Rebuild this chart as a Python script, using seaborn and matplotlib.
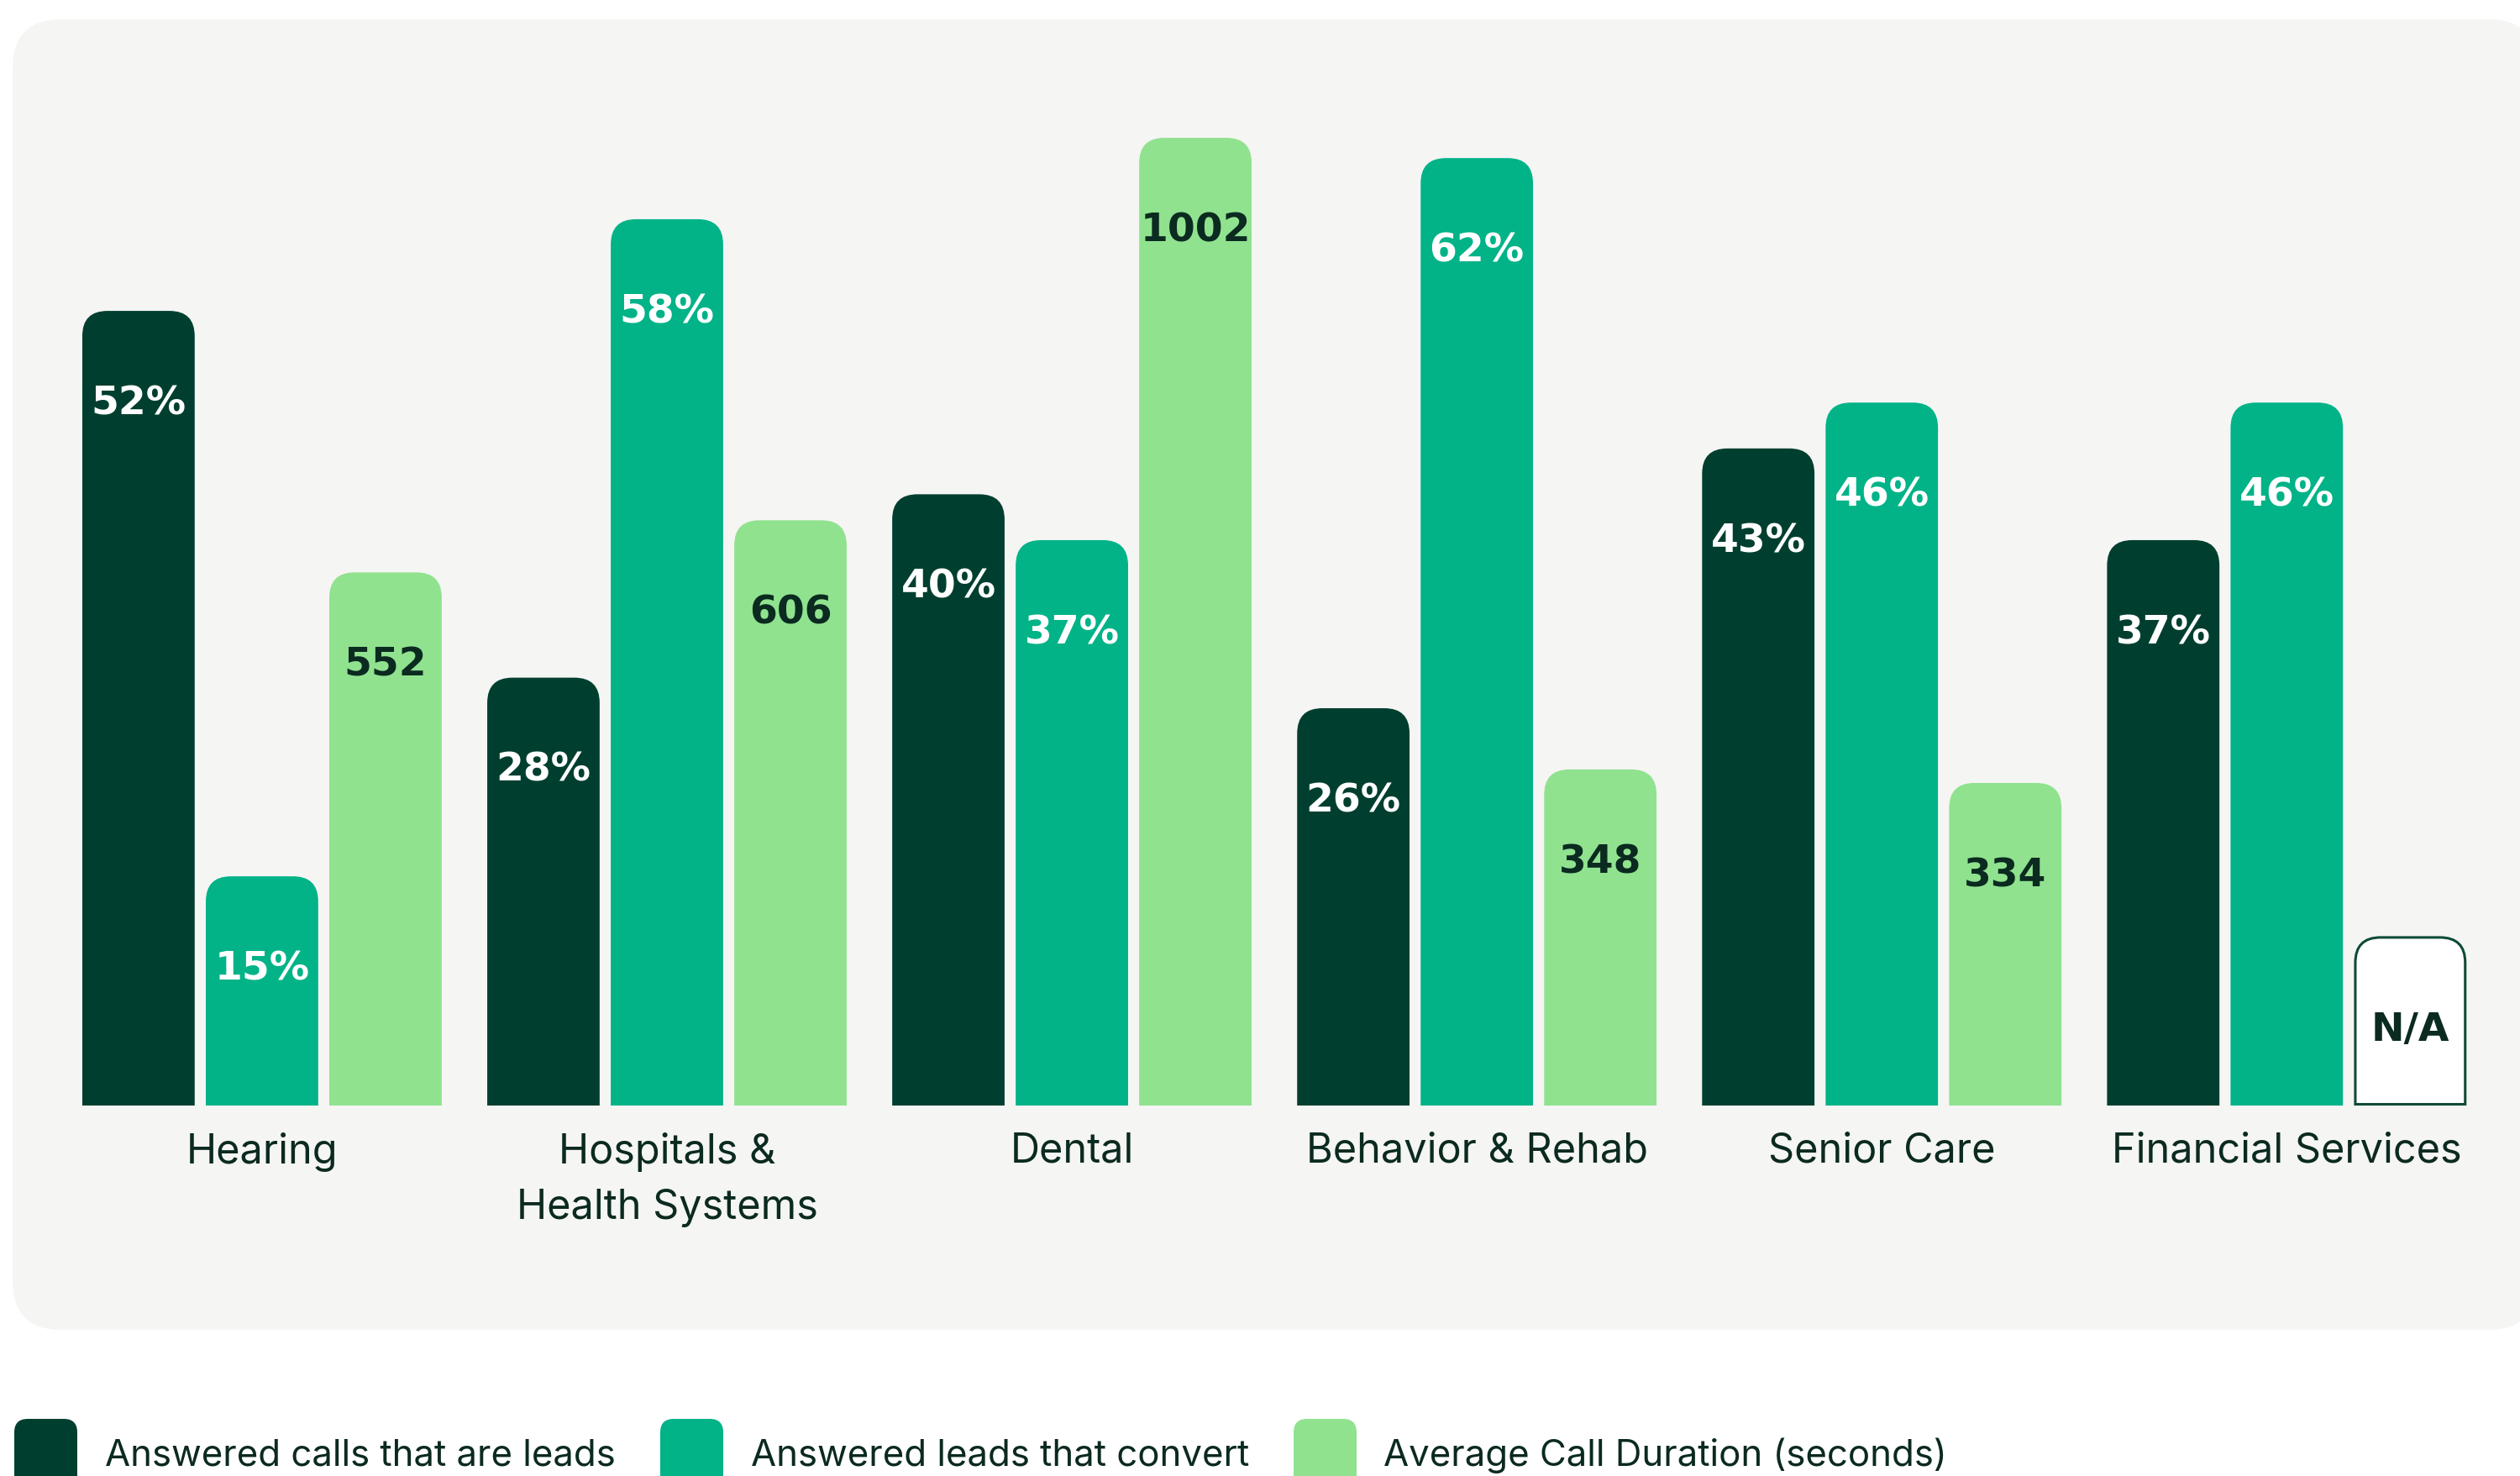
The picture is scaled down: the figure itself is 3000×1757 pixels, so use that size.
import numpy as np
import pandas as pd
import matplotlib
matplotlib.use("Agg")
import matplotlib.pyplot as plt
import seaborn as sns
from matplotlib.path import Path
from matplotlib.patches import PathPatch, FancyBboxPatch
from matplotlib.transforms import IdentityTransform

# ==========================================
# Data
# ==========================================
categories = ["Hearing", "Hospitals &\nHealth Systems", "Dental",
              "Behavior & Rehab", "Senior Care", "Financial Services"]
series = ["Answered calls that are leads", "Answered leads that convert",
          "Average Call Duration (seconds)"]
calls_leads = [52, 28, 40, 26, 43, 37]          # %
leads_convert = [15, 58, 37, 62, 46, 46]        # %
call_duration = [552, 606, 1002, 348, 334, np.nan]  # seconds, N/A for Financial Services

# seconds are drawn on their own scale next to the percentages
SECONDS_TO_UNITS = 0.0632
NA_HEIGHT = 11

colors = ["#003F2F", "#02B388", "#90E28F"]
text_dark = "#0B2A20"
panel_color = "#F5F5F3"

# ==========================================
# Build long table
# ==========================================
rows = []
for i, cat in enumerate(categories):
    rows.append((cat, series[0], calls_leads[i], f"{calls_leads[i]}%"))
    rows.append((cat, series[1], leads_convert[i], f"{leads_convert[i]}%"))
    if np.isnan(call_duration[i]):
        rows.append((cat, series[2], NA_HEIGHT, "N/A"))
    else:
        rows.append((cat, series[2], call_duration[i] * SECONDS_TO_UNITS,
                     f"{int(call_duration[i])}"))
df = pd.DataFrame(rows, columns=["category", "series", "height", "label"])

# ==========================================
# Figure
# ==========================================
W, H = 3000, 1758
fig = plt.figure(figsize=(W / 100, H / 100), dpi=100)
fig.patch.set_facecolor("white")

# background panel (pixel coordinates, origin bottom-left)
panel_top, panel_bottom = 24, 1584
panel = FancyBboxPatch((15, H - panel_bottom), 3020 - 15, panel_bottom - panel_top,
                       boxstyle="round,pad=0,rounding_size=58",
                       facecolor=panel_color, edgecolor="none",
                       transform=IdentityTransform(), zorder=0)
fig.add_artist(panel)

baseline_px = 1317
ax = fig.add_axes([0, (H - baseline_px) / H, 1, baseline_px / H])
ax.set_facecolor("none")
ax.patch.set_alpha(0)
ax.set_zorder(4)

sns.barplot(data=df, x="category", y="height", hue="series",
            order=categories, hue_order=series, palette=colors,
            saturation=1, width=0.915, gap=0.09, errorbar=None,
            legend=False, ax=ax)

ax.set_xlim(-0.647, 5.576)
ax.set_ylim(0, 72.4)
for s in ax.spines.values():
    s.set_visible(False)
ax.set_yticks([])
ax.set_xlabel("")
ax.set_ylabel("")
ax.tick_params(axis="x", length=0, pad=22)
for t in ax.get_xticklabels():
    t.set_fontsize(35)
    t.set_family(["Inter", "DejaVu Sans"])
    t.set_color(text_dark)
    t.set_multialignment("center")
    t.set_linespacing(1.58)


def rounded_top_path(x0, y0, x1, y1, r):
    r = min(r, (x1 - x0) / 2, (y1 - y0))
    verts = [(x0, y0), (x0, y1 - r), (x0, y1), (x0 + r, y1),
             (x1 - r, y1), (x1, y1), (x1, y1 - r), (x1, y0), (x0, y0)]
    codes = [Path.MOVETO, Path.LINETO, Path.CURVE3, Path.CURVE3,
             Path.LINETO, Path.CURVE3, Path.CURVE3, Path.LINETO, Path.CLOSEPOLY]
    return Path(verts, codes)


fig.canvas.draw()
for j, cont in enumerate(ax.containers):
    for i, bar in enumerate(cont):
        bx, by = bar.get_x(), bar.get_y()
        bw, bh = bar.get_width(), bar.get_height()
        (px0, py0) = ax.transData.transform((bx, by))
        (px1, py1) = ax.transData.transform((bx + bw, by + bh))
        row = df[(df["category"] == categories[i]) & (df["series"] == series[j])].iloc[0]
        is_na = row["label"] == "N/A"
        if is_na:
            patch = PathPatch(rounded_top_path(px0 + 1.5, py0 + 1.5, px1 - 1.5, py1, 30),
                              facecolor="white", edgecolor="#0E4A38", linewidth=2.2,
                              transform=IdentityTransform(), zorder=3)
        else:
            patch = PathPatch(rounded_top_path(px0, py0, px1, py1, 30),
                              facecolor=colors[j], edgecolor="none",
                              transform=IdentityTransform(), zorder=3)
        fig.add_artist(patch)
        bar.set_visible(False)
        label_color = "white" if j < 2 else text_dark
        ax.annotate(row["label"], xy=(bx + bw / 2, by + bh), xytext=(0, -79),
                    textcoords="offset points", ha="center", va="center",
                    fontsize=34, fontweight="bold", color=label_color,
                    family=["DejaVu Sans"], zorder=5)

# ==========================================
# Legend (bottom, runs off the image edge)
# ==========================================
leg_sq_x = [17, 786, 1540]
leg_txt_x = [125, 894, 1647]
for k in range(3):
    sq = FancyBboxPatch((leg_sq_x[k], H - 1758 - 20), 75, 88,
                        boxstyle="round,pad=0,rounding_size=16",
                        facecolor=colors[k], edgecolor="none",
                        transform=IdentityTransform(), zorder=2)
    fig.add_artist(sq)
    fig.text(leg_txt_x[k] / W, (H - 1745) / H, series[k], fontsize=31.5,
             family=["Inter", "DejaVu Sans"], color=text_dark,
             ha="left", va="baseline")

fig.savefig("out.png", dpi=100)
